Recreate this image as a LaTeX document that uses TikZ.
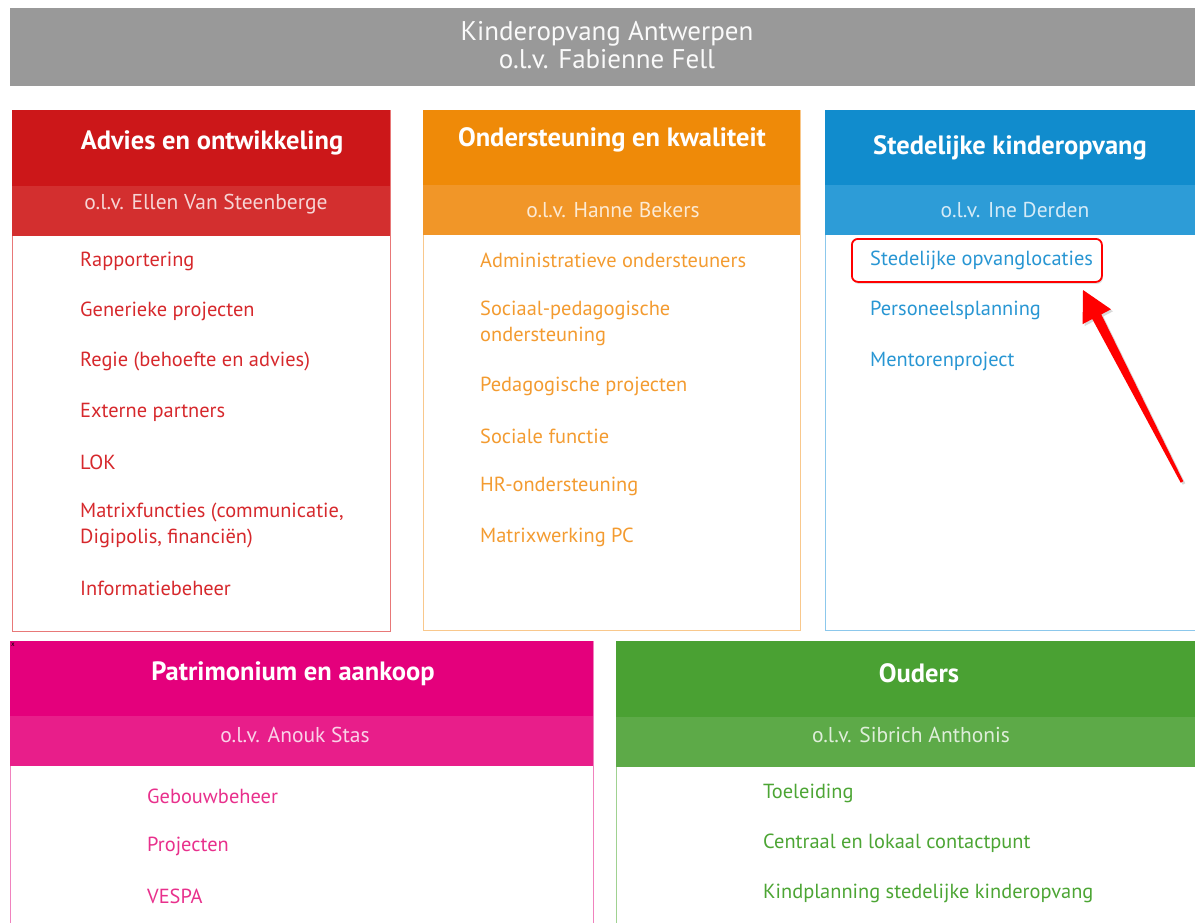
\documentclass[tikz,border=0pt]{standalone}
\usepackage{fontspec}
\setmainfont{PT Sans}
\usetikzlibrary{shadows}
\definecolor{grayA}{RGB}{153,153,153}
\definecolor{redA}{RGB}{204,23,25}
\definecolor{redB}{RGB}{211,47,47}
\definecolor{redT}{RGB}{214,40,44}
\definecolor{redL}{RGB}{232,120,120}
\definecolor{orA}{RGB}{239,138,8}
\definecolor{orB}{RGB}{241,150,40}
\definecolor{orT}{RGB}{243,155,48}
\definecolor{orL}{RGB}{249,200,140}
\definecolor{blA}{RGB}{17,140,205}
\definecolor{blB}{RGB}{45,156,215}
\definecolor{blT}{RGB}{40,150,211}
\definecolor{blL}{RGB}{140,200,236}
\definecolor{piA}{RGB}{228,0,124}
\definecolor{piB}{RGB}{232,30,138}
\definecolor{piT}{RGB}{232,48,140}
\definecolor{piL}{RGB}{240,130,190}
\definecolor{grA}{RGB}{74,161,51}
\definecolor{grB}{RGB}{93,170,72}
\definecolor{grT}{RGB}{76,165,52}
\definecolor{grL}{RGB}{160,210,145}
\begin{document}
\begin{tikzpicture}[x=1pt, y=-1pt,
    frame/.style={anchor=north west, inner sep=0, line width=1.2pt},
    band/.style={anchor=north west, inner sep=0},
    title/.style={inner sep=0, text=white, font=\bfseries\fontsize{26.5}{30}\selectfont},
    subtitle/.style={inner sep=0, font=\fontsize{21.5}{24}\selectfont},
    item/.style={anchor=west, inner sep=0, align=left, font=\fontsize{20.4}{26}\selectfont}]
      \clip (0,0) rectangle (1195,923);
      \node (top)[band, fill=grayA, minimum width=1195pt, minimum height=78pt] at (10,8) {};
      \node (topt)[inner sep=0, align=center, text=white!95!grayA, font=\fontsize{27}{28}\selectfont] at (607,45)
        {Kinderopvang Antwerpen\\o.l.v. Fabienne Fell};
      \node (rbox)[frame, draw=redL, minimum width=378pt, minimum height=521pt] at (12,110) {};
      \node (rhead)[band, fill=redA, minimum width=378pt, minimum height=76pt] at (12,110) {};
      \node (rsub)[band, fill=redB, minimum width=378pt, minimum height=50pt] at (12,186) {};
      \node (rtitle)[title] at (212,143) {Advies en ontwikkeling};
      \node (rlead)[subtitle, text=white!80!redB] at (206,204) {o.l.v. Ellen Van Steenberge};
      \node (r1)[item, text=redT] at (80,261) {Rapportering};
      \node (r2)[item, text=redT] at (80,311) {Generieke projecten};
      \node (r3)[item, text=redT] at (80,361) {Regie (behoefte en advies)};
      \node (r4)[item, text=redT] at (80,412) {Externe partners};
      \node (r5)[item, text=redT] at (80,462) {LOK};
      \node (r6)[item, text=redT] at (80,525) {Matrixfuncties (communicatie,\\Digipolis, financiën)};
      \node (r7)[item, text=redT] at (80,588) {Informatiebeheer};
      \node (obox)[frame, draw=orL, minimum width=377pt, minimum height=520pt] at (423,110) {};
      \node (ohead)[band, fill=orA, minimum width=377pt, minimum height=75pt] at (423,110) {};
      \node (osub)[band, fill=orB, minimum width=377pt, minimum height=50pt] at (423,185) {};
      \node (otitle)[title] at (612,140) {Ondersteuning en kwaliteit};
      \node (olead)[subtitle, text=white!80!orB] at (613,210) {o.l.v. Hanne Bekers};
      \node (o1)[item, text=orT] at (480,260) {Administratieve ondersteuners};
      \node (o2)[item, text=orT] at (480,323) {Sociaal-pedagogische\\ondersteuning};
      \node (o3)[item, text=orT] at (480,386) {Pedagogische projecten};
      \node (o4)[item, text=orT] at (480,436) {Sociale functie};
      \node (o5)[item, text=orT] at (480,486) {HR-ondersteuning};
      \node (o6)[item, text=orT] at (480,537) {Matrixwerking PC};
      \node (bbox)[frame, draw=blL, minimum width=390pt, minimum height=520pt] at (825,110) {};
      \node (bhead)[band, fill=blA, minimum width=390pt, minimum height=75pt] at (825,110) {};
      \node (bsub)[band, fill=blB, minimum width=390pt, minimum height=50pt] at (825,185) {};
      \node (btitle)[title] at (1010,148) {Stedelijke kinderopvang};
      \node (blead)[subtitle, text=white!80!blB] at (1015,210) {o.l.v. Ine Derden};
      \node (hl)[anchor=north west, draw=red, line width=1.8pt, rounded corners=6pt, fill=white,
        minimum width=250pt, minimum height=43pt,
        drop shadow={opacity=0.25, shadow xshift=1pt, shadow yshift=-2pt}] at (851,238) {};
      \node (b1)[item, text=blT] at (870,260) {Stedelijke opvanglocaties};
      \node (b2)[item, text=blT] at (870,310) {Personeelsplanning};
      \node (b3)[item, text=blT] at (870,361) {Mentorenproject};
      \node (pbox)[frame, draw=piL, minimum width=583pt, minimum height=300pt] at (10,641) {};
      \node (phead)[band, fill=piA, minimum width=583pt, minimum height=75pt] at (10,641) {};
      \node (psub)[band, fill=piB, minimum width=583pt, minimum height=50pt] at (10,716) {};
      \node (ptitle)[title] at (293,674) {Patrimonium en aankoop};
      \node (plead)[subtitle, text=white!80!piB] at (295,735) {o.l.v. Anouk Stas};
      \node (xmark)[inner sep=0, font=\fontsize{7}{7}\selectfont] at (13,645) {x};
      \node (p1)[item, text=piT] at (147,796) {Gebouwbeheer};
      \node (p2)[item, text=piT] at (147,846) {Projecten};
      \node (p3)[item, text=piT] at (147,896) {VESPA};
      \node (gbox)[frame, draw=grL, minimum width=600pt, minimum height=300pt] at (616,641) {};
      \node (ghead)[band, fill=grA, minimum width=600pt, minimum height=76pt] at (616,641) {};
      \node (gsub)[band, fill=grB, minimum width=600pt, minimum height=50pt] at (616,717) {};
      \node (gtitle)[title] at (919,673) {Ouders};
      \node (glead)[subtitle, text=white!80!grB] at (911,735) {o.l.v. Sibrich Anthonis};
      \node (g1)[item, text=grT] at (763,793) {Toeleiding};
      \node (g2)[item, text=grT] at (763,843) {Centraal en lokaal contactpunt};
      \node (g3)[item, text=grT] at (763,893) {Kindplanning stedelijke kinderopvang};
      \coordinate (tip) at (1083,290);
      \coordinate (hleft) at (1082.6,324.1);
      \coordinate (sleft) at (1092.3,319);
      \coordinate (tleft) at (1180.7,482.7);
      \coordinate (tright) at (1183.3,481.3);
      \coordinate (sright) at (1101.3,314.4);
      \coordinate (hright) at (1111,309.3);
      \fill[red, drop shadow={opacity=0.3, shadow xshift=2pt, shadow yshift=-2pt}]
        (tip) -- (hleft) -- (sleft) -- (tleft) -- (tright) -- (sright) -- (hright) -- cycle;
    \end{tikzpicture}
\end{document}
